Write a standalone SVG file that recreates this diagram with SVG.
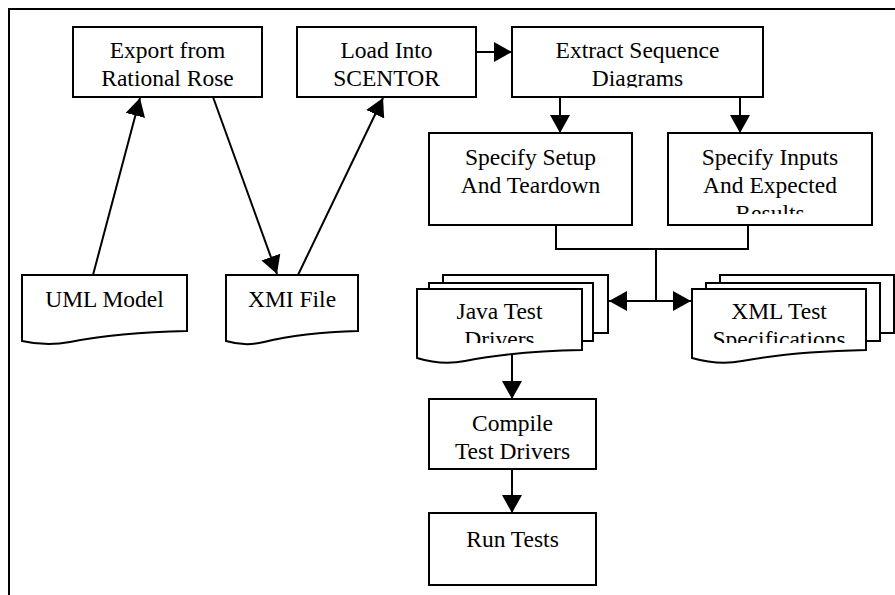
<svg xmlns="http://www.w3.org/2000/svg" width="895" height="595" viewBox="0 0 895 595">
<style>
.box{fill:#fff;stroke:#000;stroke-width:2}
.ln{fill:none;stroke:#000;stroke-width:2}
.t{font-family:"Liberation Serif","Times New Roman",serif;font-size:23.5px;fill:#000;text-anchor:middle}
</style>
<defs>
<marker id="ah" viewBox="0 0 18 20" markerWidth="18" markerHeight="20" refX="18" refY="10" orient="auto-start-reverse" markerUnits="userSpaceOnUse">
<path d="M0,0 L18,10 L0,20 Z" fill="#000"/>
</marker>
<clipPath id="cExtract"><rect x="513" y="28" width="249" height="59.5"/></clipPath>
<clipPath id="cInputs"><rect x="669" y="134" width="202" height="80"/></clipPath>
<clipPath id="cJava"><rect x="418" y="290" width="163" height="53"/></clipPath>
<clipPath id="cXml"><rect x="693" y="290" width="172" height="53"/></clipPath>
</defs>
<rect width="895" height="595" fill="#fff"/>
<g id="frame">
<path class="ln" d="M9,595 V9 H895"/>
</g>
<g id="export">
<rect class="box" x="73" y="27" width="189" height="70"/>
<text class="t" x="167.5" y="58">Export from</text>
<text class="t" x="167.5" y="86">Rational Rose</text>
</g>
<g id="load">
<rect class="box" x="297" y="27" width="179" height="70"/>
<text class="t" x="386.5" y="58">Load Into</text>
<text class="t" x="386.5" y="86">SCENTOR</text>
</g>
<g id="extract">
<rect class="box" x="512" y="27" width="251" height="70"/>
<g clip-path="url(#cExtract)">
<text class="t" x="637.5" y="58">Extract Sequence</text>
<text class="t" x="637.5" y="86">Diagrams</text>
</g>
</g>
<g id="setup">
<rect class="box" x="429" y="133" width="203" height="92"/>
<text class="t" x="530.5" y="165">Specify Setup</text>
<text class="t" x="530.5" y="193">And Teardown</text>
</g>
<g id="inputs">
<rect class="box" x="668" y="133" width="204" height="92"/>
<g clip-path="url(#cInputs)">
<text class="t" x="770" y="165">Specify Inputs</text>
<text class="t" x="770" y="193">And Expected</text>
<text class="t" x="770" y="221">Results</text>
</g>
</g>
<g id="uml">
<path class="box" d="M22,275 H187 V331 C140,332 100,336 70,342 C50,346 35,344 22,341 Z"/>
<text class="t" x="104.5" y="307">UML Model</text>
</g>
<g id="xmi">
<path class="box" d="M226,275 H358 V331 C320,332 288,336 264,342 C248,346 236,344 226,341 Z"/>
<text class="t" x="292" y="307">XMI File</text>
</g>
<g id="java">
<rect class="box" x="443" y="275" width="165" height="58"/>
<rect class="box" x="429" y="283" width="164" height="58"/>
<path class="box" d="M417,289 H582 V350 C535,351 495,355 465,361 C445,365 430,362 417,358 Z"/>
<g clip-path="url(#cJava)">
<text class="t" x="499.5" y="319">Java Test</text>
<text class="t" x="499.5" y="347">Drivers</text>
</g>
</g>
<g id="xml">
<rect class="box" x="720" y="275" width="174" height="58"/>
<rect class="box" x="706" y="283" width="174" height="58"/>
<path class="box" d="M692,289 H866 V350 C816,351 774,355 742,361 C722,365 706,362 692,358 Z"/>
<g clip-path="url(#cXml)">
<text class="t" x="779" y="319">XML Test</text>
<text class="t" x="779" y="347">Specifications</text>
</g>
</g>
<g id="compile">
<rect class="box" x="429" y="399" width="167" height="70"/>
<text class="t" x="512.5" y="431">Compile</text>
<text class="t" x="512.5" y="459">Test Drivers</text>
</g>
<g id="run">
<rect class="box" x="429" y="513" width="167" height="72"/>
<text class="t" x="512.5" y="547">Run Tests</text>
</g>
<g id="connectors">
<line class="ln" x1="93" y1="275" x2="140" y2="98" marker-end="url(#ah)"/>
<line class="ln" x1="213" y1="97" x2="277" y2="274" marker-end="url(#ah)"/>
<line class="ln" x1="298" y1="275" x2="383" y2="98" marker-end="url(#ah)"/>
<line class="ln" x1="476" y1="52" x2="512" y2="52" marker-end="url(#ah)"/>
<line class="ln" x1="560" y1="97" x2="560" y2="133" marker-end="url(#ah)"/>
<line class="ln" x1="740" y1="97" x2="740" y2="133" marker-end="url(#ah)"/>
<polyline class="ln" points="556,225 556,249 748,249 748,225"/>
<line class="ln" x1="656" y1="249" x2="656" y2="301"/>
<line class="ln" x1="609" y1="301" x2="691" y2="301" marker-start="url(#ah)" marker-end="url(#ah)"/>
<line class="ln" x1="512" y1="355" x2="512" y2="399" marker-end="url(#ah)"/>
<line class="ln" x1="512" y1="469" x2="512" y2="513" marker-end="url(#ah)"/>
</g>
</svg>
